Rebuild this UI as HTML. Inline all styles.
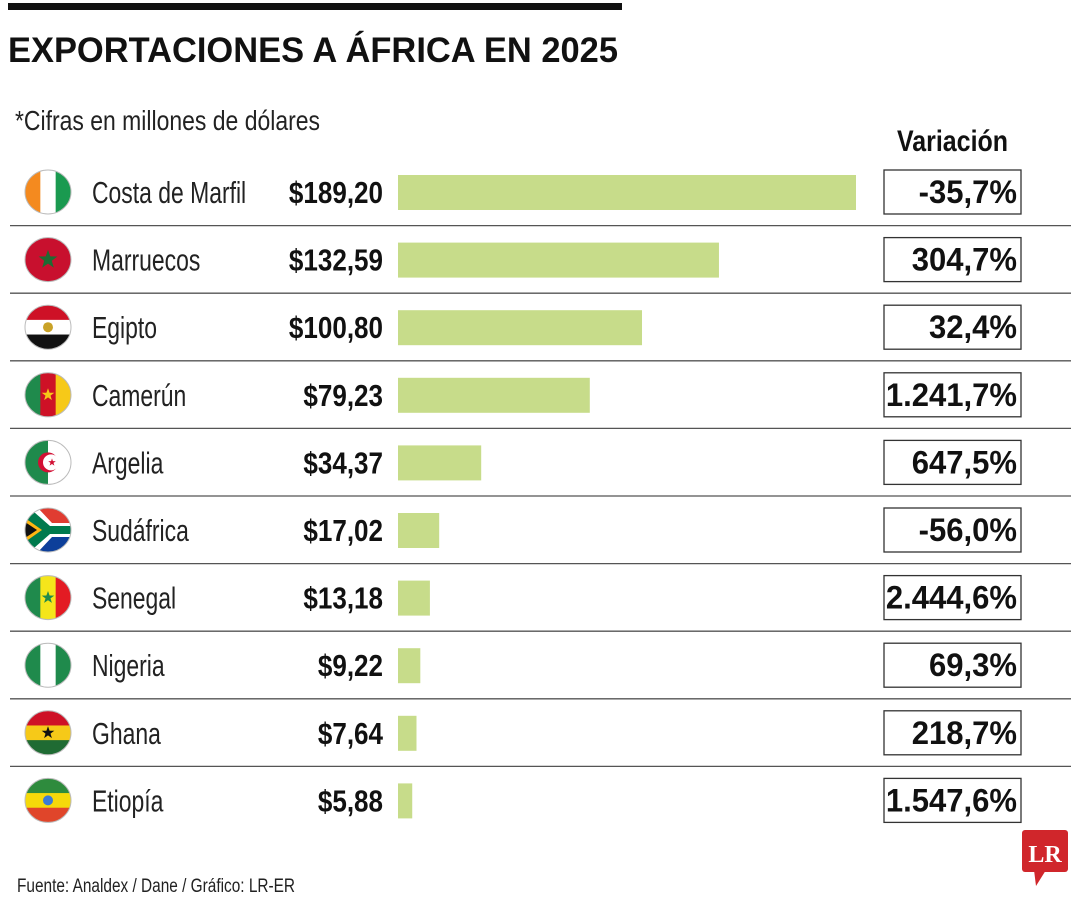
<!DOCTYPE html>
<html><head><meta charset="utf-8"><style>
html,body{margin:0;padding:0;background:#fff;}
svg{display:block;font-family:"Liberation Sans Narrow","Liberation Sans",sans-serif;}
</style></head><body>
<svg id="chart" width="1080" height="900" viewBox="0 0 1080 900" xmlns="http://www.w3.org/2000/svg">
<defs><clipPath id="fc"><ellipse cx="0" cy="0" rx="23" ry="22"/></clipPath></defs>
<rect x="8" y="3" width="614" height="7" fill="#111"/>
<text x="8" y="62" font-size="35" font-weight="bold" fill="#111" textLength="610" lengthAdjust="spacingAndGlyphs">EXPORTACIONES A ÁFRICA EN 2025</text>
<text x="15" y="130" font-size="28" fill="#222" textLength="305" lengthAdjust="spacingAndGlyphs">*Cifras en millones de dólares</text>
<text x="897" y="151" font-size="30" font-weight="bold" fill="#111" textLength="111" lengthAdjust="spacingAndGlyphs">Variación</text>
<g id="rows"></g>
<text x="17" y="892" font-size="19" fill="#222" textLength="278" lengthAdjust="spacingAndGlyphs">Fuente: Analdex / Dane / Gráfico: LR-ER</text>
<g>
<rect x="1022" y="830" width="46" height="42" rx="3" fill="#d0262b"/>
<polygon points="1034,870 1046,870 1036,886" fill="#d0262b"/>
<text x="1045" y="862" font-family="Liberation Serif,serif" font-weight="bold" font-size="24" fill="#fff" text-anchor="middle">LR</text>
</g>
</svg>
<script>
const countries=["Costa de Marfil","Marruecos","Egipto","Camerún","Argelia","Sudáfrica","Senegal","Nigeria","Ghana","Etiopía"];
const values=[189.20,132.59,100.80,79.23,34.37,17.02,13.18,9.22,7.64,5.88];
const valueLabels=["$189,20","$132,59","$100,80","$79,23","$34,37","$17,02","$13,18","$9,22","$7,64","$5,88"];
const variations=["-35,7%","304,7%","32,4%","1.241,7%","647,5%","-56,0%","2.444,6%","69,3%","218,7%","1.547,6%"];
const flags={
"Costa de Marfil":[["v","#f48a1f","#ffffff","#1a9a50"]],
"Marruecos":[["solid","#c8102e"],["star","#1f6b33",0.45]],
"Egipto":[["h","#ce1126","#ffffff","#111111"],["dot","#c9a227"]],
"Camerún":[["v","#1f8a4c","#ce1126","#f6c918"],["star","#f6c918",0.3]],
"Argelia":[["v2","#1f8a4c","#ffffff"],["crescent","#d21034"]],
"Sudáfrica":[["za"]],
"Senegal":[["v","#1f8a4c","#f5e51b","#e31b23"],["star","#1f8a4c",0.3]],
"Nigeria":[["v","#1f8a4c","#ffffff","#1f8a4c"]],
"Ghana":[["h","#ce1126","#f6c918","#1f6b33"],["star","#111",0.3]],
"Etiopía":[["h","#2e8b3d","#f5d90a","#e0452a"],["dot","#3b7bd4"]]
};
const NS="http://www.w3.org/2000/svg";
const rows=document.getElementById('rows');
const x0=398, maxW=458, maxV=189.2;
const xScale=v=>v/maxV*maxW;
const y0=192, step=67.6;
const yScale=i=>y0+i*step;
function mk(tag,attrs,parent){const e=document.createElementNS(NS,tag);for(const k in attrs)e.setAttribute(k,attrs[k]);parent.appendChild(e);return e;}
function starPts(r){let p=[];for(let k=0;k<10;k++){const a=-Math.PI/2+k*Math.PI/5;const rr=k%2?r*0.4:r;p.push((rr*Math.cos(a)).toFixed(1)+","+(rr*Math.sin(a)).toFixed(1));}return p.join(" ");}
countries.forEach((c,i)=>{
  const cy=yScale(i);
  const g=mk('g',{},rows);
  
  
  if(i>0){const ln=mk('line',{x1:10,x2:1071,y1:cy-34,y2:cy-34,stroke:'#555','stroke-width':1.3},g);
    }
  const fg=mk('g',{transform:`translate(48,${cy})`},g);
  
  const cg=mk('g',{'clip-path':'url(#fc)'},fg);
  (flags[c]||[]).forEach(p=>{
    const t=p[0];
    if(t==='v'){for(let k=0;k<3;k++)mk('rect',{x:-23+k*46/3,y:-22,width:46/3+0.5,height:44,fill:p[k+1]},cg);}
    else if(t==='h'){for(let k=0;k<3;k++)mk('rect',{x:-23,y:-22+k*44/3,width:46,height:44/3+0.5,fill:p[k+1]},cg);}
    else if(t==='v2'){mk('rect',{x:-23,y:-22,width:23,height:44,fill:p[1]},cg);mk('rect',{x:0,y:-22,width:23,height:44,fill:p[2]},cg);}
    else if(t==='solid'){mk('rect',{x:-23,y:-22,width:46,height:44,fill:p[1]},cg);}
    else if(t==='star'){mk('polygon',{points:starPts(22*p[2]),fill:p[1]},cg);}
    else if(t==='dot'){mk('circle',{cx:0,cy:0,r:5,fill:p[1]},cg);}
    else if(t==='crescent'){mk('circle',{cx:0,cy:0,r:10,fill:p[1]},cg);mk('circle',{cx:3,cy:0,r:8,fill:'#fff'},cg);mk('polygon',{points:starPts(4),fill:p[1],transform:'translate(4,0)'},cg);}
    else if(t==='za'){mk('rect',{x:-23,y:-22,width:46,height:22,fill:'#e03c31'},cg);mk('rect',{x:-23,y:0,width:46,height:22,fill:'#0d3f9a'},cg);
      mk('polygon',{points:'-23,-22 -10,-22 4,-7 23,-7 23,7 4,7 -10,22 -23,22',fill:'#fff'},cg);
      mk('polygon',{points:'-23,-18 -14,-18 2,-4 23,-4 23,4 2,4 -14,18 -23,18',fill:'#007a4d'},cg);
      mk('polygon',{points:'-23,-12 -6,0 -23,12',fill:'#ffb612'},cg);mk('polygon',{points:'-23,-8 -11,0 -23,8',fill:'#111'},cg);}
  });
  mk('ellipse',{cx:0,cy:0,rx:23,ry:22,fill:'none',stroke:'#bbb','stroke-width':1},fg);
  const nm=mk('text',{transform:`translate(92,${cy+11}) scale(0.74,1)`,'font-size':31,fill:'#222'},g);nm.textContent=c;
  
  const vl=mk('text',{transform:`translate(383,${cy+11}) scale(0.84,1)`,'font-size':31,'font-weight':'bold','text-anchor':'end',fill:'#111'},g);vl.textContent=valueLabels[i];
  
  const b=mk('rect',{x:x0,y:cy-17,width:xScale(values[i]),height:35,fill:'#c7dc8a'},g);
  
  const bx=mk('rect',{x:884,y:cy-22,width:137,height:44,fill:'#fff',stroke:'#333','stroke-width':1.3},g);
  
  const vt=mk('text',{transform:`translate(1017,${cy+11}) scale(0.97,1)`,'font-size':32,'font-weight':'bold','text-anchor':'end',fill:'#111'},g);vt.textContent=variations[i];
  
});
</script>
</body></html>
